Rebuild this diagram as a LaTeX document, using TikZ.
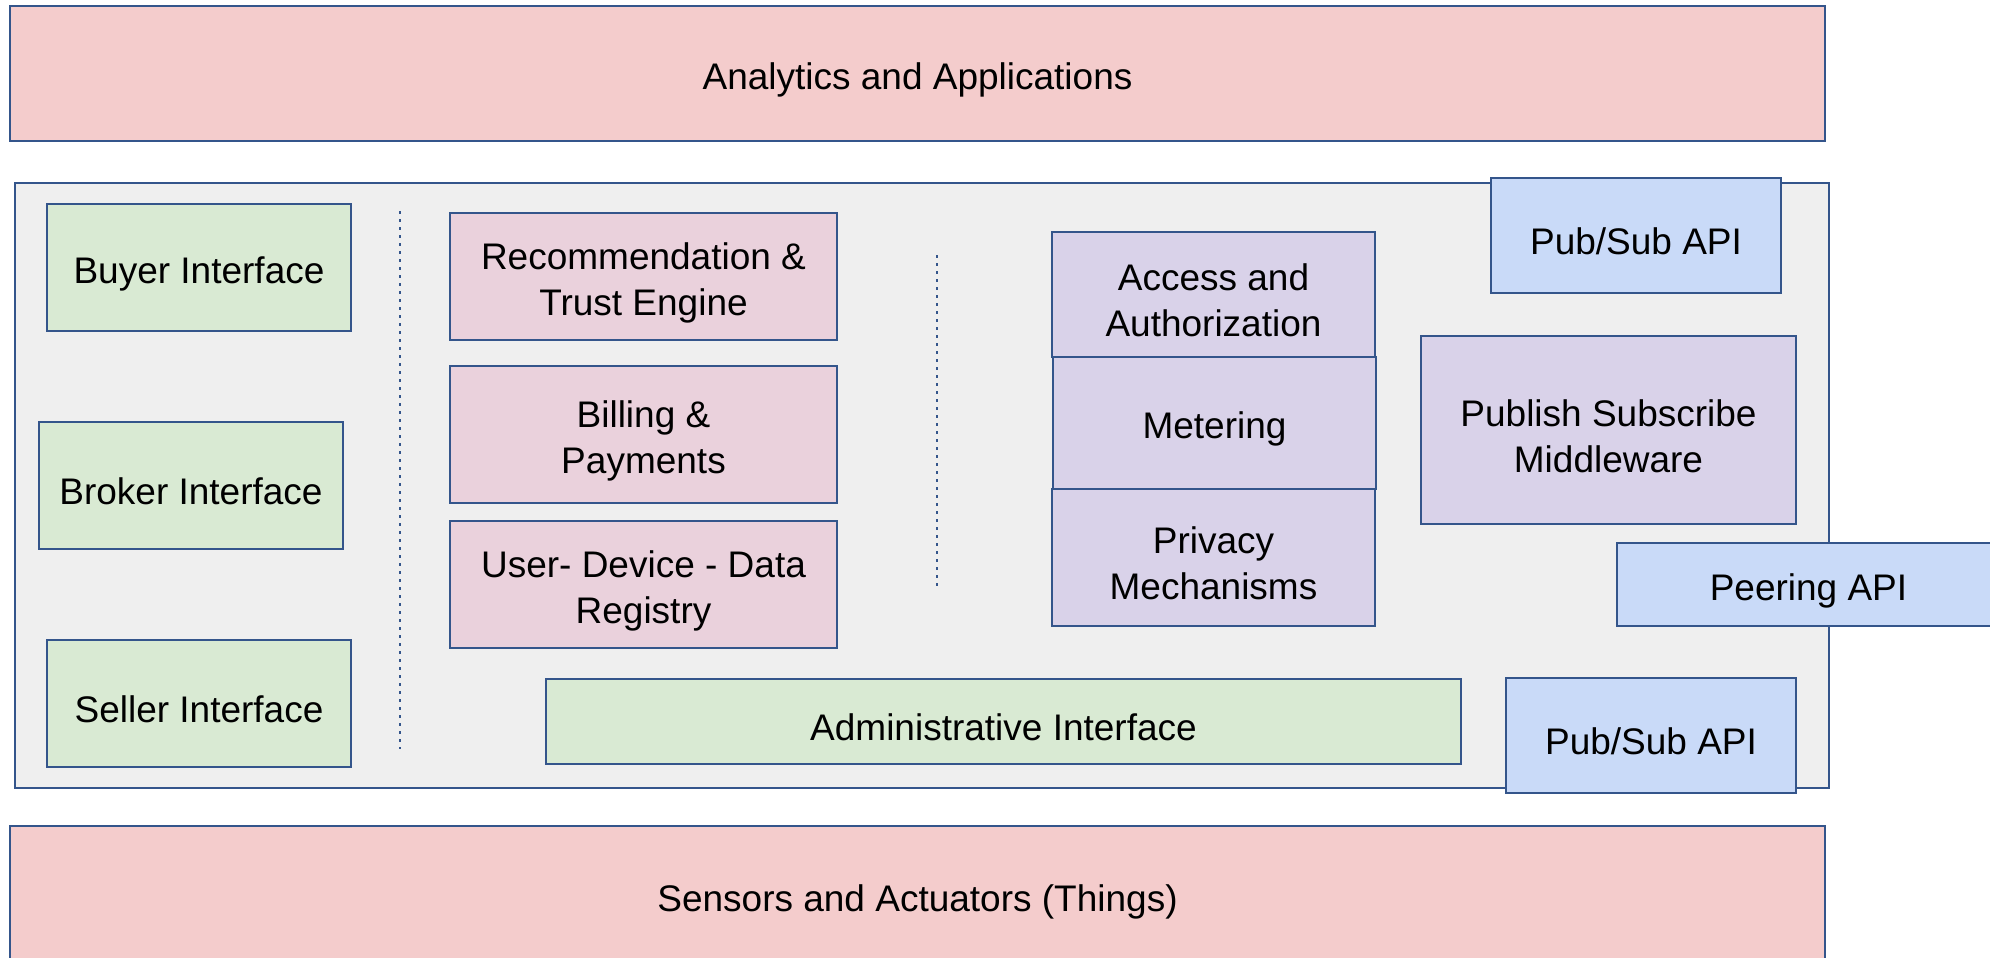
\documentclass[tikz,border=0pt]{standalone}
\usepackage{fontspec}
\setmainfont{Liberation Sans}
\definecolor{edge}{HTML}{34558B}
\definecolor{layerpink}{HTML}{F4CCCC}
\definecolor{platform}{HTML}{EFEFEF}
\definecolor{ifgreen}{HTML}{D9EAD3}
\definecolor{svcmauve}{HTML}{EAD1DC}
\definecolor{secpurple}{HTML}{D9D2E9}
\definecolor{apiblue}{HTML}{C9DAF8}
\tikzset{
  % an invisible strut beside the text block sets the text a little low
  textdrop/.style={execute at begin node={\rule{0pt}{#1}}},
  box/.style={draw=edge, line width=2pt, rectangle, inner sep=0pt, outer sep=0pt,
    align=center, font=\fontsize{37}{46}\selectfont, text=black, textdrop=39pt},
  twolines/.style={textdrop=85pt},
  layer/.style={box, fill=layerpink},
  greenbox/.style={box, fill=ifgreen},
  mauvebox/.style={box, fill=svcmauve},
  purplebox/.style={box, fill=secpurple},
  bluebox/.style={box, fill=apiblue},
  divider/.style={draw=edge, line width=2.5pt, dash pattern=on 2.5pt off 5.5pt}
}
\begin{document}
\begin{tikzpicture}[x=1pt, y=-1pt]
\useasboundingbox (0,0) rectangle (1990,958);

% top and bottom layers
\node[layer, minimum width=1815, minimum height=135] (ana) at (917.5,73.5) {Analytics and Applications};
\node[layer, minimum width=1815, minimum height=139] (sens) at (917.5,895.5) {Sensors and Actuators (Things)};

% middleware platform
\node[box, fill=platform, minimum width=1814, minimum height=605, textdrop=0pt] (plat) at (922,485.5) {};

% user-facing interfaces
\node[greenbox, minimum width=304, minimum height=127] (buyer) at (199,267.5) {Buyer Interface};
\node[greenbox, minimum width=304, minimum height=127] (broker) at (191,485.5) {Broker Interface};
\node[greenbox, minimum width=304, minimum height=127] (seller) at (199,703.5) {Seller Interface};

% separators
\coordinate (d1a) at (400,211);
\coordinate (d1b) at (400,749);
\coordinate (d2a) at (937,255);
\coordinate (d2b) at (937,586);
\draw[divider] (d1a) -- (d1b);
\draw[divider] (d2a) -- (d2b);

% marketplace services
\node[mauvebox, twolines, minimum width=387, minimum height=127] (rec) at (643.5,276.5) {Recommendation \&\\Trust Engine};
\node[mauvebox, twolines, minimum width=387, minimum height=137] (bill) at (643.5,434.5) {Billing \&\\Payments};
\node[mauvebox, twolines, minimum width=387, minimum height=127] (reg) at (643.5,584.5) {User- Device - Data\\Registry};

% security stack
\node[purplebox, twolines, minimum width=323, minimum height=125] (acc) at (1213.5,294.5) {Access and\\Authorization};
\node[purplebox, minimum width=323, minimum height=132] (meter) at (1214.5,423) {Metering};
\node[purplebox, twolines, minimum width=323, minimum height=137] (priv) at (1213.5,557.5) {Privacy\\Mechanisms};

% administration
\node[greenbox, minimum width=915, minimum height=85] (admin) at (1003.5,721.5) {Administrative Interface};

% messaging and APIs
\node[bluebox, minimum width=290, minimum height=115] (pubtop) at (1636,235.5) {Pub/Sub API};
\node[purplebox, twolines, minimum width=375, minimum height=188] (psm) at (1608.5,430) {Publish Subscribe\\Middleware};
\node[bluebox, minimum width=383, minimum height=83] (peer) at (1808.5,584.5) {Peering API};
\node[bluebox, minimum width=290, minimum height=115] (pubbot) at (1651,735.5) {Pub/Sub API};
\end{tikzpicture}
\end{document}
